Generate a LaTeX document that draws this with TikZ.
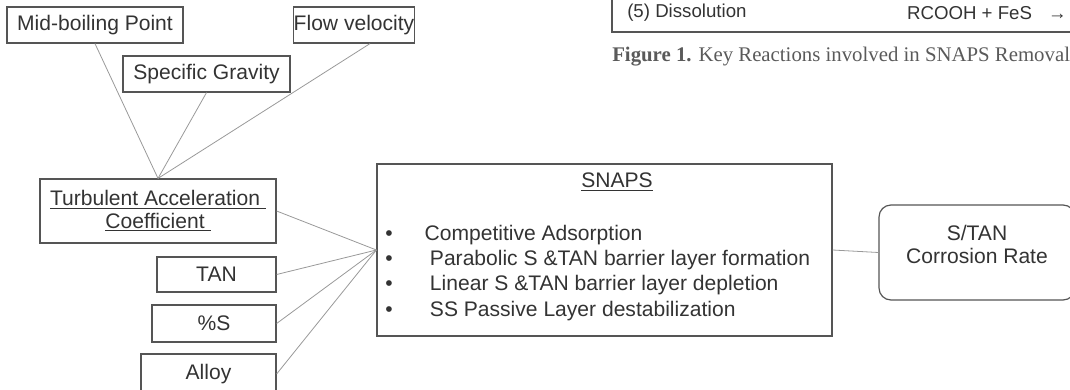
\documentclass[tikz,border=0pt]{standalone}
\usepackage{fontspec}
\setmainfont{Liberation Sans}
\newfontfamily\capfont{Liberation Serif}
\definecolor{boxgray}{HTML}{555555}
\definecolor{linegray}{HTML}{999999}
\definecolor{txtgray}{HTML}{333333}
\definecolor{capgray}{HTML}{5A5A5A}
\tikzset{
  factor/.style={draw=boxgray, line width=0.9pt, text=txtgray, inner sep=0pt, font=\fontsize{15.8}{18}\selectfont},
  link/.style={draw=linegray, line width=0.6pt}
}
\begin{document}
\begin{tikzpicture}[x=0.75pt, y=-0.75pt]
  \useasboundingbox (0,0) rectangle (1070,389);
  \clip (0,0) rectangle (1070,389);

  % page fragment at top right
  \draw[boxgray, line width=0.9pt] (612,-20) |- (1090,32);
  \node[anchor=west, inner sep=0pt, text=txtgray, font=\fontsize{14}{16}\selectfont] (diss) at (627,13) {(5) Dissolution};
  \node[anchor=east, inner sep=0pt, text=txtgray, font=\fontsize{14}{16}\selectfont] (rxn) at (1067,13) {RCOOH + FeS\hspace{12pt}→};
  \node[anchor=west, inner sep=0pt, text=capgray, font=\capfont\fontsize{15.6}{18}\selectfont] (cap) at (612,57)
    {\textbf{Figure 1.} Key Reactions involved in SNAPS Removal};

  % factors
  \node[factor, minimum width=132pt, minimum height=27pt] (mid) at (95,25) {Mid-boiling Point};
  \node[factor, minimum width=85.5pt, minimum height=27pt] (flow) at (354,25) {Flow velocity};
  \node[factor, minimum width=125.25pt, minimum height=27pt] (sg) at (206.5,74) {Specific Gravity};
  \node[factor, minimum width=177pt, minimum height=48pt, align=center] (tac) at (158,211)
    {\underline{Turbulent Acceleration\ }\\[-1pt]\underline{Coefficient\ }};
  \node[factor, minimum width=89.25pt, minimum height=26.25pt] (tan) at (216.5,274.5) {TAN};
  \node[factor, minimum width=93pt, minimum height=27.75pt] (pcs) at (214,323.5) {\%S};
  \node[factor, minimum width=101.25pt, minimum height=30pt] (alloy) at (208.5,374) {Alloy};

  % mechanisms
  \node[factor, minimum width=341.25pt, minimum height=129pt] (snaps) at (604.5,250) {};
  \node[text=txtgray, font=\fontsize{15.8}{18}\selectfont] (title) at (617,182) {\underline{SNAPS}};
  \node[anchor=north west, text=txtgray, inner sep=0pt, font=\fontsize{15.8}{19}\selectfont] (mech) at (385,222)
    {\begin{tabular}{@{}l@{\hspace{28pt}}l@{}}
      • & \hspace{-4pt}Competitive Adsorption\\
      • & Parabolic S \&TAN barrier layer formation\\
      • & Linear S \&TAN barrier layer depletion\\
      • & SS Passive Layer destabilization
    \end{tabular}};
  \node[factor, rounded corners=9pt, minimum width=147pt, minimum height=71.25pt, align=center] (rate) at (977,252.5)
    {S/TAN\\[-1pt]Corrosion Rate\\[-6pt]\mbox{}};

  % connectors
  \draw[link] (mid.south) -- (tac.north);
  \draw[link] (sg.south) -- (tac.north);
  \draw[link] ([xshift=12pt]flow.south) -- (tac.north);
  \foreach \n in {tac, tan, pcs, alloy}
    \draw[link] (\n.east) -- (snaps.west);
  \draw[link] (snaps.east) -- (rate.west);
\end{tikzpicture}
\end{document}
